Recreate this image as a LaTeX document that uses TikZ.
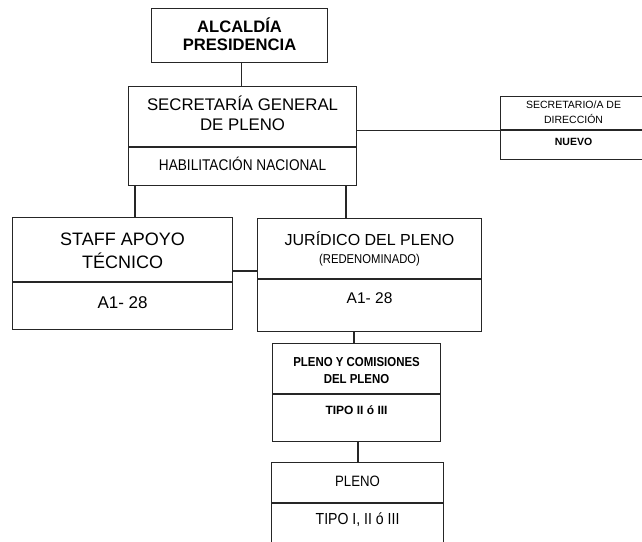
\documentclass[tikz,border=0pt]{standalone}
\usepackage{fontspec}
\setmainfont{Liberation Sans}
\newfontfamily\narrowfont[FakeStretch=0.88]{Liberation Sans}
\usetikzlibrary{positioning}

\begin{document}
\begin{tikzpicture}[x=1pt, y=1pt, line width=1.1pt,
  cell/.style={draw=black!85, inner sep=0pt, anchor=north west, align=center},
  link/.style={draw=black!85}]
\useasboundingbox (0,0) rectangle (642,-541);

% top of the chart
\node[cell, minimum width=176pt, text height=42pt, text depth=12pt,
  font=\fontsize{16.6}{18}\selectfont\bfseries] (alc) at (151,-8) {ALCALDÍA\\PRESIDENCIA};

\node[cell, minimum width=228pt, text height=44pt, text depth=16pt,
  font=\fontsize{16.8}{20}\selectfont] (sec) at (128,-86) {SECRETARÍA GENERAL\\DE PLENO};
\node[cell, minimum width=228pt, text height=23pt, text depth=15pt,
  font=\fontsize{15.5}{18}\selectfont\narrowfont] (secB) at (sec.south west) {HABILITACIÓN NACIONAL};

\node[cell, minimum width=146pt, text height=27pt, text depth=6pt,
  font=\fontsize{10.5}{15}\selectfont] (dir) at (500,-96) {SECRETARIO/A DE\\DIRECCIÓN};
\node[cell, minimum width=146pt, text height=15pt, text depth=14pt,
  font=\fontsize{10.5}{12}\selectfont\bfseries] (dirB) at (dir.south west) {NUEVO};

% second row
\node[cell, minimum width=220pt, text height=51pt, text depth=13pt,
  font=\fontsize{18}{23}\selectfont] (staff) at (12,-217) {STAFF APOYO\\TÉCNICO};
\node[cell, minimum width=220pt, text height=26pt, text depth=21pt,
  font=\fontsize{17}{20}\selectfont] (staffB) at (staff.south west) {A1- 28};

\node[cell, minimum width=224pt, text height=45pt, text depth=15pt,
  font=\fontsize{16}{18}\selectfont] (jur) at (257,-218)
  {JURÍDICO DEL PLENO\\{\fontsize{12.8}{14}\selectfont\narrowfont (REDENOMINADO)}};
\node[cell, minimum width=224pt, text height=24pt, text depth=28pt,
  font=\fontsize{15.5}{18}\selectfont] (jurB) at (jur.south west) {A1- 28};

% lower boxes
\node[cell, minimum width=168pt, text height=40pt, text depth=10pt,
  font=\fontsize{13}{17}\selectfont\narrowfont\bfseries] (com) at (272,-343) {PLENO Y COMISIONES\\DEL PLENO};
\node[cell, minimum width=168pt, text height=20pt, text depth=27pt,
  font=\fontsize{12}{14}\selectfont\bfseries] (comB) at (com.south west) {TIPO II ó III};

\node[cell, minimum width=172pt, text height=24pt, text depth=16pt,
  font=\fontsize{15}{18}\selectfont\narrowfont] (ple) at (271,-462) {PLENO};
\node[cell, minimum width=172pt, text height=21pt, text depth=24pt,
  font=\fontsize{16}{18}\selectfont\narrowfont] (pleB) at (ple.south west) {TIPO I, II ó III};

% connectors
\draw[link] ([xshift=2pt]alc.south) -- ([xshift=2pt]alc.south |- sec.north);
\draw[link] (sec.east |- dirB.north west) -- (dirB.north west);
\draw[link] ([xshift=123pt]staff.north west) -- ([xshift=123pt]staff.north west |- secB.south);
\draw[link] ([xshift=89pt]jur.north west) -- ([xshift=89pt]jur.north west |- secB.south);
\draw[link] ([yshift=-54pt]staff.north east) -- ([yshift=-54pt]staff.north east -| jur.west);
\draw[link] ([xshift=82pt]com.north west) -- ([xshift=82pt]com.north west |- jurB.south);
\draw[link] ([xshift=87pt]ple.north west) -- ([xshift=87pt]ple.north west |- comB.south);
\end{tikzpicture}
\end{document}
